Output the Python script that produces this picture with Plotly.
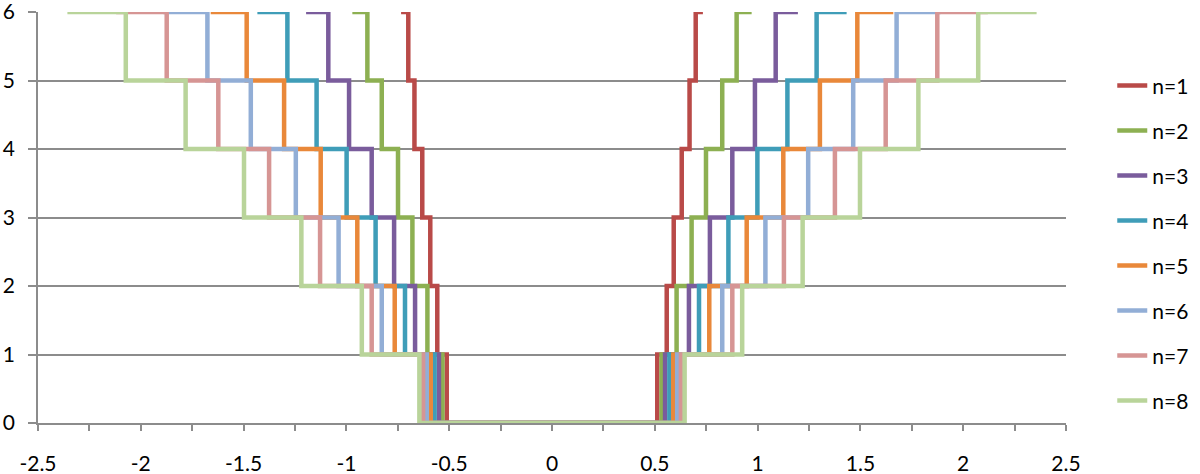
import plotly.graph_objects as go

# Series names and colours
names = ["n=1", "n=2", "n=3", "n=4", "n=5", "n=6", "n=7", "n=8"]
colors = ["#B94A48", "#8DB052", "#7A5C9C", "#3F9DB8", "#E9883A", "#92AED6", "#D69594", "#B9D49A"]

# Step edges on the positive side (x where the level rises by 1)
edges_n1 = [0.512, 0.558, 0.592, 0.631, 0.669, 0.699]
edges_n2 = [0.533, 0.606, 0.679, 0.749, 0.828, 0.898]
edges_n3 = [0.550, 0.666, 0.768, 0.877, 0.987, 1.088]
edges_n4 = [0.571, 0.715, 0.858, 0.999, 1.145, 1.287]
edges_n5 = [0.590, 0.765, 0.947, 1.125, 1.303, 1.485]
edges_n6 = [0.609, 0.828, 1.038, 1.246, 1.465, 1.676]
edges_n7 = [0.627, 0.877, 1.128, 1.376, 1.623, 1.874]
edges_n8 = [0.645, 0.925, 1.219, 1.498, 1.782, 2.073]
# Outer end of each series (|x| where the level-6 segment stops)
ends = [0.734, 0.971, 1.196, 1.433, 1.660, 1.890, 2.120, 2.357]
levels = [0, 1, 2, 3, 4, 5, 6]

x_tickvals = [-2.5, -2, -1.5, -1, -0.5, 0, 0.5, 1, 1.5, 2, 2.5]
x_ticktext = ["-2.5", "-2", "-1.5", "-1", "-0.5", "0", "0.5", "1", "1.5", "2", "2.5"]
y_tickvals = [0, 1, 2, 3, 4, 5, 6]

all_edges = [edges_n1, edges_n2, edges_n3, edges_n4, edges_n5, edges_n6, edges_n7, edges_n8]

FONT = "Lato, 'Noto Sans', 'Liberation Sans', sans-serif"
GRAY = "#8c8c8c"

fig = go.Figure()
for name, col, edges, end in zip(names, colors, all_edges, ends):
    xs, ys = [], []
    xs.append(-end); ys.append(levels[-1])
    for k in range(len(edges) - 1, -1, -1):
        xs.append(-edges[k]); ys.append(levels[k])
    for k in range(len(edges)):
        xs.append(edges[k]); ys.append(levels[k + 1])
    xs.append(end); ys.append(levels[-1])
    fig.add_trace(go.Scatter(
        x=xs, y=ys, mode="lines", name=name, line=dict(color=col, width=4.5, shape="hv"),
        cliponaxis=False, legendgroup=name,
    ))

fig.update_layout(
    template="none",
    width=1200, height=474,
    margin=dict(l=38, r=134, t=12, b=51, autoexpand=False),
    paper_bgcolor="white", plot_bgcolor="white",
    font=dict(family=FONT, size=21, color="black"),
    showlegend=True,
    legend=dict(
        x=1.045, xanchor="left", y=0.87, yanchor="top",
        tracegroupgap=14.7, font=dict(size=21),
        bgcolor="rgba(0,0,0,0)",
    ),
    xaxis=dict(
        range=[-2.5, 2.5], tickvals=x_tickvals, ticktext=x_ticktext, automargin=False,
        ticks="outside", ticklen=6, tickcolor=GRAY, tickwidth=1.5,
        showline=True, linecolor=GRAY, linewidth=1.5, ticklabeloverflow="allow",
        showgrid=False, zeroline=False, ticklabelstandoff=15,
        minor=dict(dtick=0.25, tick0=-2.5, ticks="outside", ticklen=6, tickcolor=GRAY, tickwidth=1.5, showgrid=False),
    ),
    yaxis=dict(
        range=[0, 6], tickvals=y_tickvals, automargin=False,
        ticks="outside", ticklen=8, tickcolor=GRAY, tickwidth=1.5,
        showline=True, linecolor=GRAY, linewidth=1.5, ticklabeloverflow="allow",
        showgrid=True, gridcolor=GRAY, gridwidth=1.5, zeroline=False, ticklabelstandoff=9,
    ),
)

fig.write_html("out.html", post_script="document.body.style.margin='0';",
               config={"displayModeBar": False})
